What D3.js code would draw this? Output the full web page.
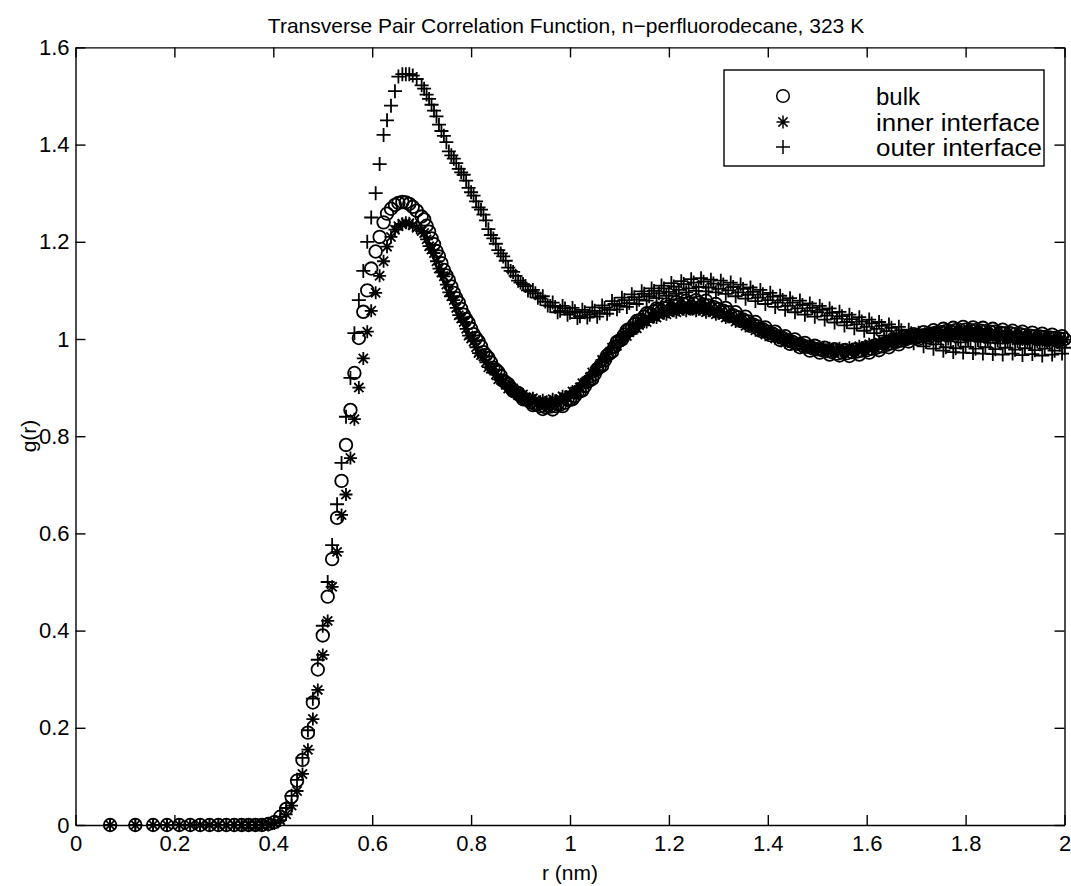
<!DOCTYPE html>
<html>
<head>
<meta charset="utf-8">
<script src="https://cdn.jsdelivr.net/npm/d3@7"></script>
<style>
  html, body { margin: 0; padding: 0; background: #fff; }
  svg { display: block; }
  text { font-family: "Liberation Sans", Arial, Helvetica, sans-serif; fill: #000; }
</style>
</head>
<body>
<svg id="chart" width="1071" height="886"></svg>
<script>
// ---------------- data ----------------
const title = "Transverse Pair Correlation Function, n\u2212perfluorodecane, 323 K";
const xLabel = "r (nm)";
const yLabel = "g(r)";
const seriesNames = ["bulk", "inner interface", "outer interface"];
const xTicks = [0, 0.2, 0.4, 0.6, 0.8, 1, 1.2, 1.4, 1.6, 1.8, 2];
const xTickLabels = ["0", "0.2", "0.4", "0.6", "0.8", "1", "1.2", "1.4", "1.6", "1.8", "2"];
const yTicks = [0, 0.2, 0.4, 0.6, 0.8, 1, 1.2, 1.4, 1.6];
const yTickLabels = ["0", "0.2", "0.4", "0.6", "0.8", "1", "1.2", "1.4", "1.6"];

// r (nm) of each bin
const rValues = [
  0.070,0.121,0.157,0.185,0.210,0.232,0.252,0.271,0.289,0.305,0.321,0.336,0.350,0.364,0.377,0.390,
  0.402,0.414,0.426,0.437,0.448,0.459,0.470,0.480,0.490,0.500,0.510,0.519,0.529,0.538,0.547,0.556,
  0.564,0.573,0.582,0.590,0.598,0.607,0.615,0.623,0.630,0.638,0.646,0.653,0.661,0.668,0.675,0.682,0.690,
  0.700,0.705,0.710,0.715,0.720,0.725,0.730,0.735,0.740,0.745,0.750,0.755,0.760,0.765,0.770,0.775,0.780,0.785,0.790,0.795,
  0.800,0.805,0.810,0.815,0.820,0.825,0.830,0.835,0.840,0.845,0.850,0.855,0.860,0.865,0.870,0.875,0.880,0.885,0.890,0.895,
  0.900,0.905,0.910,0.915,0.920,0.925,0.930,0.935,0.940,0.945,0.950,0.955,0.960,0.965,0.970,0.975,0.980,0.985,0.990,0.995,
  1.000,1.005,1.010,1.015,1.020,1.025,1.030,1.035,1.040,1.045,1.050,1.055,1.060,1.065,1.070,1.075,1.080,1.085,1.090,1.095,
  1.100,1.105,1.110,1.115,1.120,1.125,1.130,1.135,1.140,1.145,1.150,1.155,1.160,1.165,1.170,1.175,1.180,1.185,1.190,1.195,
  1.200,1.205,1.210,1.215,1.220,1.225,1.230,1.235,1.240,1.245,1.250,1.255,1.260,1.265,1.270,1.275,1.280,1.285,1.290,1.295,
  1.300,1.305,1.310,1.315,1.320,1.325,1.330,1.335,1.340,1.345,1.350,1.355,1.360,1.365,1.370,1.375,1.380,1.385,1.390,1.395,
  1.400,1.405,1.410,1.415,1.420,1.425,1.430,1.435,1.440,1.445,1.450,1.455,1.460,1.465,1.470,1.475,1.480,1.485,1.490,1.495,
  1.500,1.505,1.510,1.515,1.520,1.525,1.530,1.535,1.540,1.545,1.550,1.555,1.560,1.565,1.570,1.575,1.580,1.585,1.590,1.595,
  1.600,1.605,1.610,1.615,1.620,1.625,1.630,1.635,1.640,1.645,1.650,1.655,1.660,1.665,1.670,1.675,1.680,1.685,1.690,1.695,
  1.700,1.705,1.710,1.715,1.720,1.725,1.730,1.735,1.740,1.745,1.750,1.755,1.760,1.765,1.770,1.775,1.780,1.785,1.790,1.795,
  1.800,1.805,1.810,1.815,1.820,1.825,1.830,1.835,1.840,1.845,1.850,1.855,1.860,1.865,1.870,1.875,1.880,1.885,1.890,1.895,
  1.900,1.905,1.910,1.915,1.920,1.925,1.930,1.935,1.940,1.945,1.950,1.955,1.960,1.965,1.970,1.975,1.980,1.985,1.990,1.995,
  2.000
];

const bulk = [
  0,0,0,0,0,0,0,0,0,0,0,0,0,0,0,0.002,
  0.006,0.017,0.033,0.058,0.091,0.134,0.190,0.252,0.320,0.390,0.470,0.547,0.632,0.708,0.782,0.854,
  0.930,1.002,1.056,1.100,1.145,1.180,1.210,1.240,1.258,1.268,1.276,1.280,1.282,1.281,1.278,1.272,1.264,
  1.252,1.246,1.233,1.221,1.207,1.195,1.181,1.170,1.156,1.142,1.131,1.121,1.108,1.095,1.084,1.075,1.062,1.050,1.041,1.033,
  1.021,1.010,1.002,0.995,0.985,0.973,0.967,0.961,0.952,0.941,0.937,0.932,0.924,0.914,0.911,0.907,0.900,0.893,0.891,0.889,
  0.883,0.876,0.876,0.874,0.870,0.864,0.866,0.866,0.862,0.856,0.860,0.863,0.861,0.855,0.862,0.866,0.865,0.862,0.869,0.875,
  0.875,0.876,0.883,0.890,0.892,0.894,0.903,0.912,0.915,0.918,0.928,0.938,0.942,0.945,0.956,0.966,0.970,0.974,0.984,0.994,
  0.997,0.999,1.009,1.018,1.020,1.021,1.030,1.037,1.038,1.039,1.046,1.053,1.052,1.050,1.057,1.063,1.061,1.058,1.064,1.071,
  1.067,1.062,1.069,1.076,1.071,1.066,1.072,1.079,1.074,1.066,1.073,1.080,1.075,1.067,1.071,1.079,1.069,1.063,1.066,1.072,
  1.062,1.056,1.058,1.064,1.055,1.047,1.049,1.055,1.045,1.037,1.040,1.046,1.036,1.027,1.030,1.035,1.026,1.017,1.020,1.024,
  1.015,1.008,1.011,1.015,1.006,0.998,1.002,1.006,0.998,0.990,0.994,0.999,0.990,0.983,0.987,0.992,0.984,0.976,0.981,0.986,
  0.979,0.972,0.977,0.982,0.975,0.968,0.973,0.979,0.970,0.966,0.972,0.977,0.971,0.965,0.973,0.978,0.974,0.968,0.976,0.981,
  0.977,0.972,0.980,0.986,0.982,0.977,0.985,0.991,0.988,0.983,0.991,0.997,0.994,0.989,0.997,1.004,1.000,0.995,1.003,1.010,
  1.005,1.000,1.007,1.014,1.009,1.003,1.011,1.018,1.013,1.007,1.014,1.021,1.016,1.010,1.016,1.023,1.018,1.012,1.018,1.025,
  1.019,1.013,1.018,1.024,1.018,1.012,1.017,1.023,1.016,1.010,1.015,1.021,1.015,1.008,1.013,1.019,1.012,1.006,1.012,1.017,
  1.010,1.004,1.010,1.015,1.008,1.002,1.007,1.013,1.006,1.000,1.005,1.011,1.004,0.998,1.003,1.009,1.002,0.996,1.001,1.006,
  1.000
];

const innerInterface = [
  0,0,0,0,0,0,0,0,0,0,0,0,0,0,0,0,
  0.003,0.010,0.022,0.040,0.070,0.105,0.155,0.218,0.278,0.350,0.420,0.490,0.562,0.638,0.680,0.755,
  0.835,0.900,0.960,1.015,1.058,1.095,1.130,1.160,1.190,1.210,1.225,1.232,1.237,1.239,1.238,1.234,1.229,
  1.222,1.218,1.205,1.191,1.184,1.177,1.160,1.145,1.137,1.129,1.112,1.096,1.088,1.080,1.064,1.049,1.042,1.035,1.021,1.007,
  1.001,0.995,0.983,0.971,0.967,0.964,0.952,0.942,0.939,0.937,0.927,0.917,0.916,0.915,0.906,0.898,0.898,0.898,0.891,0.884,
  0.885,0.886,0.880,0.874,0.876,0.878,0.873,0.868,0.871,0.874,0.870,0.866,0.871,0.876,0.873,0.870,0.876,0.882,0.880,0.878,
  0.885,0.892,0.892,0.892,0.900,0.909,0.910,0.911,0.921,0.931,0.933,0.936,0.946,0.957,0.959,0.962,0.972,0.982,0.984,0.986,
  0.995,1.004,1.005,1.006,1.014,1.022,1.022,1.022,1.029,1.037,1.036,1.035,1.041,1.048,1.046,1.044,1.050,1.056,1.053,1.051,
  1.056,1.061,1.058,1.055,1.060,1.065,1.061,1.058,1.062,1.066,1.062,1.058,1.061,1.065,1.060,1.055,1.058,1.061,1.056,1.051,
  1.053,1.056,1.050,1.044,1.046,1.048,1.042,1.036,1.038,1.040,1.034,1.027,1.029,1.031,1.025,1.018,1.020,1.022,1.016,1.009,
  1.011,1.013,1.007,1.001,1.003,1.005,0.999,0.993,0.995,0.997,0.992,0.986,0.989,0.991,0.986,0.981,0.984,0.987,0.982,0.977,
  0.980,0.984,0.979,0.974,0.978,0.981,0.977,0.973,0.977,0.981,0.977,0.973,0.978,0.982,0.979,0.975,0.980,0.985,0.982,0.979,
  0.984,0.989,0.986,0.983,0.988,0.993,0.990,0.988,0.993,0.998,0.995,0.993,0.998,1.003,1.000,0.997,1.002,1.007,1.004,1.001,
  1.006,1.011,1.008,1.004,1.009,1.014,1.010,1.007,1.011,1.016,1.012,1.008,1.012,1.017,1.013,1.009,1.013,1.017,1.013,1.009,
  1.013,1.017,1.012,1.008,1.012,1.015,1.011,1.006,1.010,1.013,1.009,1.004,1.008,1.011,1.007,1.002,1.006,1.009,1.005,1.000,
  1.004,1.007,1.003,0.999,1.003,1.006,1.002,0.997,1.001,1.004,1.000,0.996,1.000,1.003,0.999,0.995,0.999,1.002,0.998,0.994,
  0.998
];

const outerInterface = [
  0,0,0,0,0,0,0,0,0,0,0,0,0,0,0,0.002,
  0.006,0.017,0.035,0.060,0.093,0.138,0.195,0.260,0.340,0.410,0.500,0.576,0.660,0.745,0.840,0.920,
  1.012,1.080,1.140,1.200,1.250,1.300,1.360,1.420,1.450,1.480,1.510,1.540,1.545,1.545,1.545,1.542,1.535,
  1.522,1.515,1.503,1.494,1.482,1.470,1.458,1.441,1.428,1.418,1.405,1.386,1.378,1.371,1.362,1.350,1.343,1.338,1.326,1.311,
  1.302,1.295,1.283,1.271,1.266,1.256,1.244,1.226,1.214,1.207,1.196,1.183,1.176,1.170,1.161,1.147,1.140,1.138,1.130,1.120,
  1.116,1.113,1.109,1.100,1.098,1.101,1.094,1.085,1.083,1.088,1.077,1.069,1.068,1.075,1.066,1.055,1.058,1.068,1.063,1.050,
  1.054,1.064,1.057,1.043,1.047,1.060,1.055,1.044,1.050,1.065,1.058,1.046,1.053,1.069,1.064,1.052,1.060,1.078,1.072,1.061,
  1.068,1.085,1.080,1.066,1.074,1.092,1.086,1.072,1.081,1.098,1.093,1.079,1.088,1.104,1.099,1.084,1.094,1.110,1.104,1.089,
  1.097,1.115,1.108,1.093,1.101,1.119,1.113,1.096,1.104,1.123,1.116,1.099,1.107,1.125,1.118,1.098,1.106,1.122,1.114,1.096,
  1.103,1.120,1.112,1.093,1.100,1.116,1.107,1.088,1.096,1.112,1.103,1.083,1.091,1.106,1.097,1.078,1.085,1.101,1.092,1.072,
  1.080,1.095,1.087,1.066,1.075,1.089,1.080,1.060,1.068,1.084,1.075,1.055,1.063,1.079,1.070,1.050,1.058,1.073,1.064,1.046,
  1.055,1.068,1.060,1.040,1.048,1.063,1.054,1.034,1.042,1.056,1.047,1.028,1.035,1.050,1.041,1.022,1.030,1.045,1.036,1.017,
  1.025,1.040,1.032,1.012,1.021,1.035,1.027,1.007,1.016,1.030,1.023,1.003,1.012,1.025,1.018,0.997,1.006,1.019,1.012,0.991,
  1.000,1.013,1.006,0.985,0.994,1.008,1.001,0.980,0.989,1.004,0.998,0.976,0.983,1.001,0.995,0.973,0.981,0.999,0.993,0.972,
  0.984,1.000,0.996,0.971,0.980,0.998,0.994,0.970,0.983,0.999,0.992,0.969,0.979,0.997,0.991,0.968,0.982,0.998,0.993,0.970,
  0.978,0.996,0.990,0.967,0.981,0.997,0.992,0.969,0.977,0.995,0.989,0.966,0.980,0.996,0.991,0.968,0.976,0.994,0.988,0.970,
  0.982
];

// ---------------- chart ----------------
const svg = d3.select("#chart");
svg.append("rect").attr("width", 1071).attr("height", 886).attr("fill", "#fff");

const plotLeft = 75.5, plotRight = 1064.5, plotTop = 47.4, plotBottom = 825;
const x = d3.scaleLinear().domain([0, 2]).range([plotLeft, plotRight]);
const y = d3.scaleLinear().domain([0, 1.6]).range([plotBottom, plotTop]);

const axisStyle = g => {
  g.select(".domain").attr("stroke", "#000").attr("stroke-width", 1.4);
  g.selectAll(".tick line").attr("stroke", "#000").attr("stroke-width", 1.4);
  g.selectAll(".tick text").style("font-family", "'Liberation Sans', Arial, sans-serif")
    .style("font-size", "22px").attr("fill", "#000");
};

svg.append("g").attr("transform", `translate(0,${plotBottom})`)
  .call(d3.axisBottom(x).tickValues(xTicks).tickSizeInner(-10).tickSizeOuter(0)
        .tickPadding(10).tickFormat((d, i) => xTickLabels[i]))
  .call(axisStyle)
  .call(g => g.selectAll(".tick text").attr("dy", "0.72em"));

svg.append("g").attr("transform", `translate(0,${plotTop})`)
  .call(d3.axisTop(x).tickValues(xTicks).tickSizeInner(-10).tickSizeOuter(0).tickFormat(""))
  .call(axisStyle);

svg.append("g").attr("transform", `translate(${plotLeft},0)`)
  .call(d3.axisLeft(y).tickValues(yTicks).tickSizeInner(-10).tickSizeOuter(0)
        .tickPadding(6).tickFormat((d, i) => yTickLabels[i]))
  .call(axisStyle);

svg.append("g").attr("transform", `translate(${plotRight},0)`)
  .call(d3.axisRight(y).tickValues(yTicks).tickSizeInner(-10).tickSizeOuter(0).tickFormat(""))
  .call(axisStyle);

// markers
const markerStroke = 1.8;
function drawCircles(g, data) {
  g.selectAll("circle").data(data).join("circle")
    .attr("cx", d => x(d[0])).attr("cy", d => y(d[1])).attr("r", 6.3)
    .attr("fill", "none").attr("stroke", "#000").attr("stroke-width", markerStroke);
}
const plusPath = "M-7,0H7M0,-7V7";
const starPath = "M-6.5,0H6.5M0,-6.5V6.5M-4.6,-4.6L4.6,4.6M-4.6,4.6L4.6,-4.6";
function drawPaths(g, data, p) {
  g.selectAll("path").data(data).join("path")
    .attr("transform", d => `translate(${x(d[0])},${y(d[1])})`)
    .attr("d", p).attr("fill", "none").attr("stroke", "#000").attr("stroke-width", markerStroke);
}

const bulkPts = rValues.map((r, i) => [r, bulk[i]]);
const innerPts = rValues.map((r, i) => [r, innerInterface[i]]);
const outerPts = rValues.map((r, i) => [r, outerInterface[i]]);

drawCircles(svg.append("g"), bulkPts);
drawPaths(svg.append("g"), innerPts, starPath);
drawPaths(svg.append("g"), outerPts, plusPath);

// title & labels
svg.append("text").attr("x", 566).attr("y", 33).attr("text-anchor", "middle")
  .style("font-size", "21px").text(title);
svg.append("text").attr("x", 570).attr("y", 880).attr("text-anchor", "middle")
  .style("font-size", "21px").text(xLabel);
svg.append("text").attr("transform", "translate(36,436) rotate(-90)").attr("text-anchor", "middle")
  .style("font-size", "21px").text(yLabel);

// legend
const lg = svg.append("g");
lg.append("rect").attr("x", 724).attr("y", 70).attr("width", 320).attr("height", 96)
  .attr("fill", "#fff").attr("stroke", "#000").attr("stroke-width", 1.4);
const rowsY = [96, 122, 147];
const legendWidths = [44, 164, 166];
seriesNames.forEach((name, i) => {
  const cy = rowsY[i];
  if (i === 0) {
    lg.append("circle").attr("cx", 783).attr("cy", cy).attr("r", 6.3)
      .attr("fill", "none").attr("stroke", "#000").attr("stroke-width", 1.5);
  } else {
    lg.append("path").attr("transform", `translate(783,${cy})`).attr("d", i === 1 ? starPath : plusPath)
      .attr("fill", "none").attr("stroke", "#000").attr("stroke-width", 1.5);
  }
  lg.append("text").attr("x", 876).attr("y", cy + 8.5).style("font-size", "23px")
    .attr("textLength", legendWidths[i]).attr("lengthAdjust", "spacingAndGlyphs").text(name);
});
</script>
</body>
</html>
